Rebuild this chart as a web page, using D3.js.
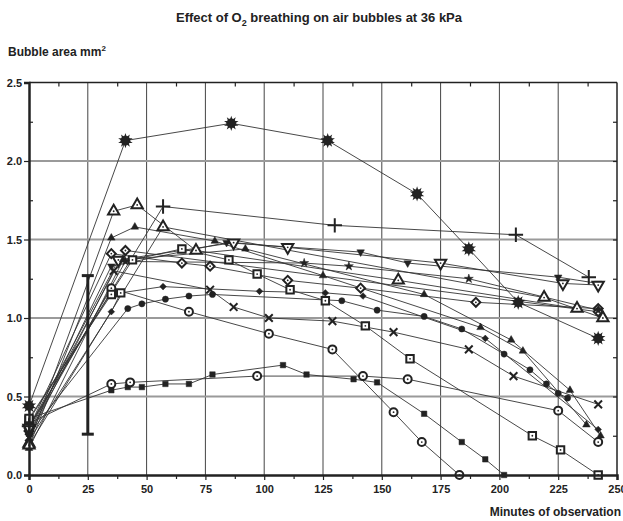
<!DOCTYPE html>
<html>
<head>
<meta charset="utf-8">
<script src="https://cdn.jsdelivr.net/npm/d3@7"></script>
<style>
  body { margin: 0; background: #fff; }
  svg text { font-family: "Liberation Sans", Arial, sans-serif; font-weight: bold; fill: #222; }
</style>
</head>
<body>
<div id="chart"></div>
<script>
// tick values
const xTicks = [0, 25, 50, 75, 100, 125, 150, 175, 200, 225, 250];
const xMinor = d3.range(12.5, 250, 25);
const yTicks = [0, 0.5, 1.0, 1.5, 2.0, 2.5];
const yMinor = [0.25, 0.75, 1.25, 1.75, 2.25];

// error bar at 25 min
const errBar = { t: 25, low: 0.26, high: 1.27 };

// series: [minutes, area mm2]
const bigStar = [[0,0.44],[41,2.13],[86,2.24],[127,2.13],[165,1.79],[187,1.44],[208,1.10],[242,0.87]];
const plusSeries = [[0,0.31],[57,1.71],[130,1.59],[207,1.53],[238,1.26]];
const triOpenA = [[0,0.20],[36,1.68],[46,1.72],[71,1.43],[157,1.24],[233,1.06]];
const triOpenB = [[0,0.19],[57,1.58],[219,1.13],[244,1.00]];
const triFillA = [[0,0.18],[35,1.51],[45,1.58],[79,1.49],[125,1.27],[192,0.94],[210,0.79],[237,0.32]];
const triFillB = [[0,0.17],[40,1.37],[92,1.44],[168,1.15],[205,0.86],[230,0.54],[243,0.25]];
const downOpen = [[0,0.30],[38,1.37],[87,1.48],[110,1.45],[175,1.35],[227,1.22],[242,1.21]];
const downFill = [[0,0.25],[35,1.33],[84,1.48],[141,1.42],[161,1.35],[225,1.26],[242,1.22]];
const smallStar = [[0,0.27],[41,1.36],[117,1.35],[136,1.33],[187,1.25],[242,1.05]];
const diamondOpenA = [[0,0.30],[35,1.41],[65,1.35],[77,1.33],[110,1.24],[141,1.19],[190,1.10],[242,1.06]];
const diamondOpenB = [[0,0.28],[41,1.43],[242,1.04]];
const squareOpenA = [[0,0.35],[44,1.37],[65,1.44],[85,1.37],[97,1.28],[111,1.18],[126,1.11],[143,0.95],[162,0.74],[214,0.25],[226,0.16],[242,0.0]];
const squareOpenB = [[0,0.36],[35,1.15],[39,1.16]];
const ringUpper = [[0,0.30],[35,1.19],[68,1.04],[102,0.90],[129,0.80],[155,0.40],[167,0.21],[183,0.0]];
const ringLower = [[0,0.33],[35,0.58],[43,0.59],[97,0.63],[142,0.63],[161,0.61],[225,0.41],[242,0.21]];
const squareFill = [[0,0.36],[35,0.54],[42,0.56],[48,0.56],[58,0.58],[68,0.58],[78,0.64],[108,0.70],[118,0.64],[138,0.61],[148,0.59],[168,0.39],[184,0.21],[194,0.10],[202,0.0]];
const circleFill = [[0,0.26],[42,1.06],[48,1.09],[58,1.12],[68,1.14],[78,1.15],[133,1.11],[148,1.05],[168,1.01],[184,0.93],[202,0.77],[213,0.67],[220,0.58],[225,0.52],[229,0.49]];
const diamondFill = [[0,0.22],[35,1.04],[39,1.16],[57,1.20],[98,1.17],[126,1.16],[142,1.14],[194,0.87],[242,0.29]];
const crossSeries = [[0,0.24],[36,1.30],[77,1.18],[87,1.07],[102,1.00],[129,0.98],[155,0.91],[187,0.80],[206,0.63],[242,0.45]];

const W = 623, H = 521;
const plot = { left: 29, right: 617, top: 82.5, bottom: 475 };
const ink = "#222";

const timesType = d3.symbolTimes || d3.symbolX || d3.symbolCross;
const plusType = d3.symbolPlus || d3.symbolCross;

// marker look per series
const series = [
  { data: squareFill, type: d3.symbolSquare, size: 30, fill: ink },
  { data: ringLower, type: d3.symbolCircle, size: 50, fill: "#fff", sw: 2, dot: true },
  { data: ringUpper, type: d3.symbolCircle, size: 50, fill: "#fff", sw: 2, dot: true },
  { data: circleFill, type: d3.symbolCircle, size: 30, fill: ink },
  { data: diamondFill, type: d3.symbolSquare, size: 22, fill: ink, rot: 45 },
  { data: crossSeries, type: timesType, size: 40, fill: "none", sw: 2 },
  { data: squareOpenA, type: d3.symbolSquare, size: 55, fill: "#fff", sw: 2, dot: true },
  { data: squareOpenB, type: d3.symbolSquare, size: 55, fill: "#fff", sw: 2, dot: true },
  { data: diamondOpenA, type: d3.symbolSquare, size: 40, fill: "#fff", sw: 2, rot: 45, dot: true },
  { data: diamondOpenB, type: d3.symbolSquare, size: 40, fill: "#fff", sw: 2, rot: 45, dot: true },
  { data: smallStar, type: d3.symbolStar, size: 25, fill: ink },
  { data: downFill, type: d3.symbolTriangle, size: 25, fill: ink, rot: 180 },
  { data: downOpen, type: d3.symbolTriangle, size: 55, fill: "#fff", sw: 2, rot: 180, dot: true },
  { data: triFillA, type: d3.symbolTriangle, size: 25, fill: ink },
  { data: triFillB, type: d3.symbolTriangle, size: 25, fill: ink },
  { data: triOpenA, type: d3.symbolTriangle, size: 55, fill: "#fff", sw: 2, dot: true },
  { data: triOpenB, type: d3.symbolTriangle, size: 55, fill: "#fff", sw: 2, dot: true },
  { data: plusSeries, type: plusType, size: 70, fill: "none", sw: 2 },
  { data: bigStar, type: d3.symbolCircle, size: 65, fill: ink, gear: true }
];

const svg = d3.select("#chart").append("svg")
  .attr("width", W)
  .attr("height", H);

const x = d3.scaleLinear().domain([0, 250]).range([plot.left, plot.right]);
const y = d3.scaleLinear().domain([0, 2.5]).range([plot.bottom, plot.top]);

// grid
svg.append("g").selectAll("line")
  .data(xTicks.slice(1, -1))
  .join("line")
  .attr("x1", d => x(d)).attr("x2", d => x(d))
  .attr("y1", plot.top).attr("y2", plot.bottom)
  .attr("stroke", "#444").attr("stroke-width", 1);

svg.append("g").selectAll("line")
  .data(yTicks.slice(1, -1))
  .join("line")
  .attr("x1", plot.left).attr("x2", plot.right)
  .attr("y1", d => y(d)).attr("y2", d => y(d))
  .attr("stroke", "#9a9a9a").attr("stroke-width", 2);

// series lines
const line = d3.line().x(d => x(d[0])).y(d => y(d[1]));
svg.append("g").selectAll("path")
  .data(series)
  .join("path")
  .attr("d", s => line(s.data))
  .attr("fill", "none")
  .attr("stroke", "#333")
  .attr("stroke-width", 0.9);

// error bar
const eb = svg.append("g").attr("stroke", ink).attr("stroke-width", 3);
eb.append("line")
  .attr("x1", x(errBar.t)).attr("x2", x(errBar.t))
  .attr("y1", y(errBar.low)).attr("y2", y(errBar.high));
[errBar.low, errBar.high].forEach(v => {
  eb.append("line")
    .attr("x1", x(errBar.t) - 6).attr("x2", x(errBar.t) + 6)
    .attr("y1", y(v)).attr("y2", y(v));
});

// markers
series.forEach(s => {
  const g = svg.append("g");
  const pts = g.selectAll("g")
    .data(s.data)
    .join("g")
    .attr("transform", d => `translate(${x(d[0])},${y(d[1])})${s.rot ? ` rotate(${s.rot})` : ""}`);
  pts.append("path")
    .attr("d", d3.symbol().type(s.type).size(s.size))
    .attr("fill", s.fill)
    .attr("stroke", ink)
    .attr("stroke-width", s.sw || 0.5);
  if (s.dot) {
    pts.append("circle").attr("r", 0.9).attr("fill", ink);
  }
  if (s.gear) {
    pts.append("path")
      .attr("d", d3.symbol().type(d3.symbolStar).size(65))
      .attr("fill", ink);
    pts.append("path")
      .attr("d", d3.symbol().type(d3.symbolStar).size(65))
      .attr("transform", "rotate(36)")
      .attr("fill", ink);
  }
});

// frame
svg.append("line").attr("x1", plot.left).attr("x2", plot.right).attr("y1", plot.top).attr("y2", plot.top)
  .attr("stroke", ink).attr("stroke-width", 1.5);
svg.append("line").attr("x1", plot.right).attr("x2", plot.right).attr("y1", plot.top).attr("y2", plot.bottom)
  .attr("stroke", ink).attr("stroke-width", 1.5);

// axes
const xAxis = svg.append("g")
  .attr("transform", `translate(0,${plot.bottom})`)
  .call(d3.axisBottom(x).tickValues(xTicks).tickSize(5).tickFormat(d3.format("d")));
svg.append("g")
  .attr("transform", `translate(0,${plot.bottom})`)
  .call(d3.axisBottom(x).tickValues(xMinor).tickSize(4).tickFormat(""))
  .select(".domain").remove();
svg.append("g")
  .attr("transform", `translate(0,${plot.top})`)
  .call(d3.axisTop(x).tickValues(xMinor).tickSize(-4).tickFormat(""))
  .select(".domain").remove();

const yAxis = svg.append("g")
  .attr("transform", `translate(${plot.left},0)`)
  .call(d3.axisLeft(y).tickValues(yTicks).tickSize(5).tickFormat(d3.format(".1f")));
svg.append("g")
  .attr("transform", `translate(${plot.left},0)`)
  .call(d3.axisLeft(y).tickValues(yMinor).tickSize(-4).tickFormat(""))
  .select(".domain").remove();
svg.append("g")
  .attr("transform", `translate(${plot.right},0)`)
  .call(d3.axisRight(y).tickValues(yMinor.concat(yTicks.slice(1, -1))).tickSize(-4).tickFormat(""))
  .select(".domain").remove();

[xAxis, yAxis].forEach(a => {
  a.select(".domain").attr("stroke", ink).attr("stroke-width", 2.5);
  a.selectAll("text").style("font-size", "11px").attr("fill", ink);
});
xAxis.selectAll("text").attr("dy", "0.9em");
yAxis.selectAll("text").attr("dx", "0.1em");
svg.selectAll(".tick line").attr("stroke", ink).attr("stroke-width", 1.2);

// titles
const title = svg.append("text")
  .attr("x", 319)
  .attr("y", 22)
  .attr("text-anchor", "middle")
  .style("font-size", "13px");
title.append("tspan").text("Effect of O");
title.append("tspan").attr("dy", 4).style("font-size", "9px").text("2");
title.append("tspan").attr("dy", -4).text(" breathing on air bubbles at 36 kPa");

const yTitle = svg.append("text")
  .attr("x", 8)
  .attr("y", 56)
  .style("font-size", "12px");
yTitle.append("tspan").text("Bubble area mm");
yTitle.append("tspan").attr("dy", -5).style("font-size", "8px").text("2");

svg.append("text")
  .attr("x", 621)
  .attr("y", 516)
  .attr("text-anchor", "end")
  .style("font-size", "12px")
  .text("Minutes of observation");
</script>
</body>
</html>
